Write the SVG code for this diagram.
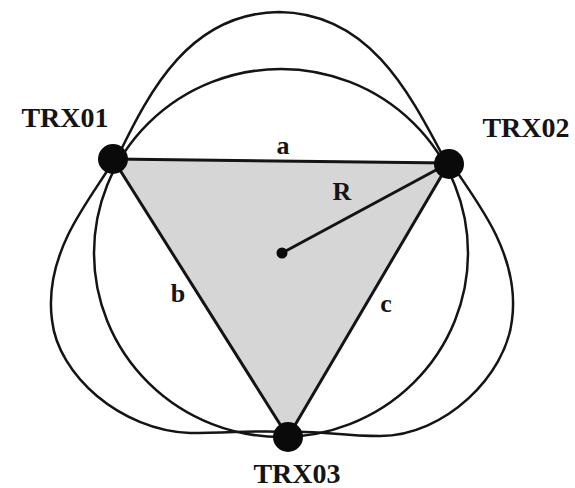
<svg xmlns="http://www.w3.org/2000/svg" width="575" height="488" viewBox="0 0 575 488">
  <style>
    .curve { fill: none; stroke: #141414; stroke-width: 2.5; }
    .edge { fill: none; stroke: #141414; stroke-width: 3; stroke-linecap: round; }
    .dot { fill: #0a0a0a; }
    .lbl { font-family: "Liberation Serif", "Times New Roman", serif; font-weight: bold; fill: #141414; }
    .node-lbl { font-size: 28px; }
    .edge-lbl { font-size: 26px; }
  </style>
  <rect width="575" height="488" fill="#ffffff"/>

  <g id="area">
    <polygon points="113,159 449,163 288,437" fill="#d6d6d6"/>
  </g>

  <g id="patterns">
    <ellipse id="circle" class="curve" cx="281" cy="253" rx="187" ry="184"/>
    <path id="lobe-top" class="curve" d="M118,156 C150,90 190,13 279,12 C368,13 408,90 444,158"/>
    <path id="lobe-left" class="curve" d="M113,162 C95,190 80,210 68,235 C55,262 48,290 52,320 C58,375 120,430 190,433 C230,433 260,430 288,432"/>
    <path id="lobe-right" class="curve" d="M451,163 C469,190 484,210 496,235 C509,262 516,290 512,320 C506,375 445,436 380,436 C340,436 315,430 288,432"/>
  </g>

  <g id="connectors">
    <line id="edge-a" class="edge" x1="113" y1="159" x2="449" y2="163"/>
    <line id="edge-b" class="edge" x1="113" y1="159" x2="288" y2="437"/>
    <line id="edge-c" class="edge" x1="449" y1="163" x2="288" y2="437"/>
    <line id="radius-R" class="edge" x1="282" y1="253" x2="449" y2="163"/>
    <text class="lbl edge-lbl" x="283" y="154" text-anchor="middle">a</text>
    <text class="lbl edge-lbl" x="178" y="302" text-anchor="middle">b</text>
    <text class="lbl edge-lbl" x="386" y="312" text-anchor="middle">c</text>
    <text class="lbl edge-lbl" x="342" y="200" text-anchor="middle">R</text>
  </g>

  <g id="center">
    <circle class="dot" cx="282" cy="253" r="5.5"/>
  </g>

  <g id="TRX01">
    <circle class="dot" cx="113" cy="159" r="15"/>
    <text class="lbl node-lbl" x="65" y="127" text-anchor="middle">TRX01</text>
  </g>
  <g id="TRX02">
    <circle class="dot" cx="449" cy="164" r="15"/>
    <text class="lbl node-lbl" x="526" y="137" text-anchor="middle">TRX02</text>
  </g>
  <g id="TRX03">
    <circle class="dot" cx="288" cy="437" r="15"/>
    <text class="lbl node-lbl" x="297" y="483" text-anchor="middle">TRX03</text>
  </g>
</svg>
